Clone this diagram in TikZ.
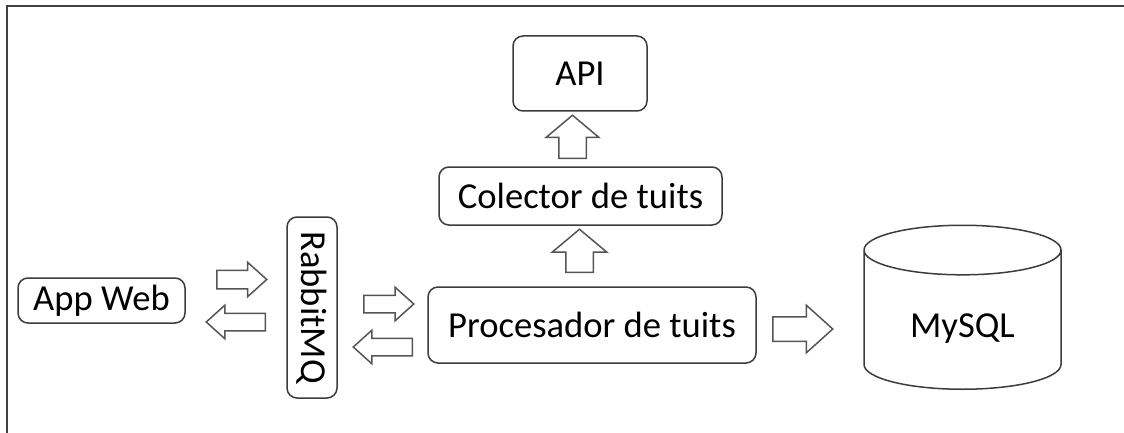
\documentclass[tikz,border=0pt]{standalone}
\usepackage{fontspec}
\setmainfont{Carlito}
\usetikzlibrary{shapes.arrows,shapes.geometric}
\definecolor{edgegray}{RGB}{60,60,60}
\definecolor{arrowgray}{RGB}{85,85,85}
\begin{document}
\begin{tikzpicture}[x=0.5pt, y=-0.5pt, font=\fontsize{18.3}{22}\selectfont,
          blk/.style={draw=edgegray, line width=0.75pt, rounded corners=5pt, inner sep=0pt},
          fat/.style={single arrow, draw=arrowgray, line width=0.75pt, inner xsep=0pt,
            minimum width=0pt, single arrow tip angle=84},
          fatup/.style={fat, rotate=90, single arrow tip angle=100},
          fatleft/.style={fat, shape border rotate=180}]
        \useasboundingbox (0,0) rectangle (1124,433);
        \draw[line width=1pt, black!75] (7,433) |- (1124,6);
        % components
        \node[blk, minimum width=83.5pt, minimum height=22.5pt] (web) at (101.5,300.5) {App Web};
        \node[blk, rotate=-90, minimum width=90.5pt, minimum height=25pt] (mq) at (312,307.5) {RabbitMQ};
        \node[blk, minimum width=164pt, minimum height=38pt] (proc) at (592,325) {Procesador de tuits};
        \node[blk, minimum width=141.5pt, minimum height=29pt] (col) at (580.5,196) {Colector de tuits};
        \node[blk, minimum width=67pt, minimum height=37.5pt] (api) at (580,73.5) {API};
        \node[cylinder, shape border rotate=90, draw=edgegray, line width=0.75pt, aspect=0.42,
          minimum width=98.5pt, minimum height=82pt, anchor=south] (db) at (962.5,390) {\phantom{MySQL}};
        \node (dbname) at (962.5,329) {MySQL};
        % block arrows
        \node[fat, anchor=tail, minimum height=25pt, inner ysep=4.25pt, single arrow head extend=4pt] (a1) at (216,279.5) {};
        \node[fatleft, anchor=tail, minimum height=29.5pt, inner ysep=4pt, single arrow head extend=4pt] (a2) at (266,322) {};
        \node[fat, anchor=tail, minimum height=25pt, inner ysep=4pt, single arrow head extend=4pt] (a3) at (363,304) {};
        \node[fatleft, anchor=tail, minimum height=29.5pt, inner ysep=4pt, single arrow head extend=4pt] (a4) at (413,347) {};
        \node[fat, anchor=tail, minimum height=30pt, inner ysep=5.75pt, single arrow head extend=5.75pt] (a5) at (772,329) {};
        \node[fatup, anchor=tail, minimum height=21.5pt, inner ysep=6.5pt, single arrow head extend=6.25pt] (u1) at (572.5,159) {};
        \node[fatup, anchor=tail, minimum height=21.5pt, inner ysep=6.5pt, single arrow head extend=6.75pt] (u2) at (579.5,273) {};
      \end{tikzpicture}
\end{document}
